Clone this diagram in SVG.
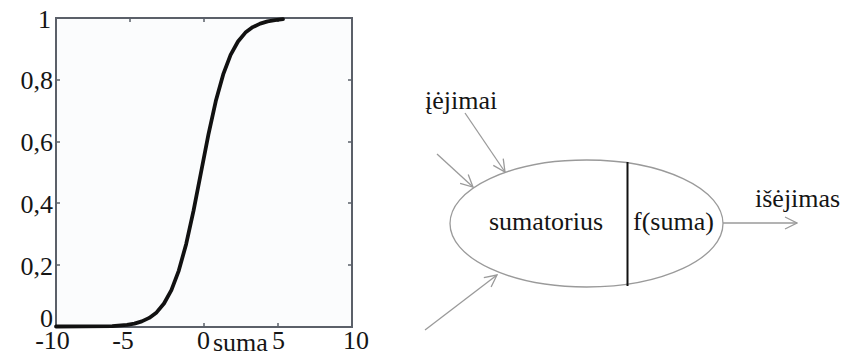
<svg xmlns="http://www.w3.org/2000/svg" width="842" height="352" viewBox="0 0 842 352">
<style>
.t{font-family:"Liberation Serif","Times New Roman",serif;font-size:26px;fill:#151515}
.frame{fill:#fbfcfd;stroke:#5b6069;stroke-width:2}
.tick{stroke:#5b6069;stroke-width:1.5}
.conn{stroke:#9a9a9a;stroke-width:1.3;fill:none}
</style>
<defs>
<marker id="arr" viewBox="0 0 14 14" refX="13" refY="7" markerWidth="14" markerHeight="14" markerUnits="userSpaceOnUse" orient="auto">
<path d="M1,1 L13,7 L1,13" fill="none" stroke="#9a9a9a" stroke-width="1.3"/>
</marker>
</defs>
<rect width="842" height="352" fill="#ffffff"/>
<g id="plot">
<rect class="frame" x="56" y="18" width="296" height="309"/>
<g class="tick">
<path d="M130,18v4M204,18v4M278,18v4M130,327v-4M204,327v-4M278,327v-4"/>
<path d="M56,80h4M56,142h4M56,203h4M56,265h4M352,80h-4M352,142h-4M352,203h-4M352,265h-4"/>
</g>
<polyline fill="none" stroke="#111" stroke-width="3.8" stroke-linejoin="round" stroke-linecap="round" points="56,326.5 112.2,326.2 127,324.9 134.4,323.6 141.8,321.4 149.2,317.9 156.6,312.4 164,303.5 171.4,290.2 178.8,270.6 186.2,243.9 193.6,210.4 201,172.5 208.4,134.6 215.8,101.1 223.2,74.4 230.6,54.8 238,41.5 245.4,32.6 252.8,27.1 260.2,23.6 267.6,21.4 275,20.1 283,19.2"/>
<g class="t">
<text x="51" y="28" text-anchor="end">1</text>
<text x="53" y="89" text-anchor="end">0,8</text>
<text x="53" y="151" text-anchor="end">0,6</text>
<text x="53" y="213" text-anchor="end">0,4</text>
<text x="53" y="275" text-anchor="end">0,2</text>
<text x="53" y="327" text-anchor="end">0</text>
<text x="52.5" y="349" text-anchor="middle">-10</text>
<text x="123" y="349" text-anchor="middle">-5</text>
<text x="203.5" y="349" text-anchor="middle">0</text>
<text x="213" y="351">suma</text>
<text x="278.5" y="349" text-anchor="middle">5</text>
<text x="356" y="349" text-anchor="middle">10</text>
</g>
</g>
<g id="neuron">
<ellipse cx="586.5" cy="223.5" rx="136.5" ry="63.5" fill="none" stroke="#9a9a9a" stroke-width="1.3"/>
<line x1="627.5" y1="162" x2="627.5" y2="286" stroke="#111" stroke-width="2"/>
<text class="t" x="489" y="230">sumatorius</text>
<text class="t" x="633" y="230">f(suma)</text>
</g>
<g id="label-inputs">
<text class="t" x="425" y="109">įėjimai</text>
</g>
<g id="label-output">
<text class="t" x="755" y="207">išėjimas</text>
</g>
<g id="connectors">
<line class="conn" x1="465" y1="113" x2="505" y2="172" marker-end="url(#arr)"/>
<line class="conn" x1="437" y1="154" x2="473" y2="187" marker-end="url(#arr)"/>
<line class="conn" x1="425" y1="330" x2="497" y2="275" marker-end="url(#arr)"/>
<line class="conn" x1="723" y1="223" x2="797" y2="223" marker-end="url(#arr)"/>
</g>
</svg>
